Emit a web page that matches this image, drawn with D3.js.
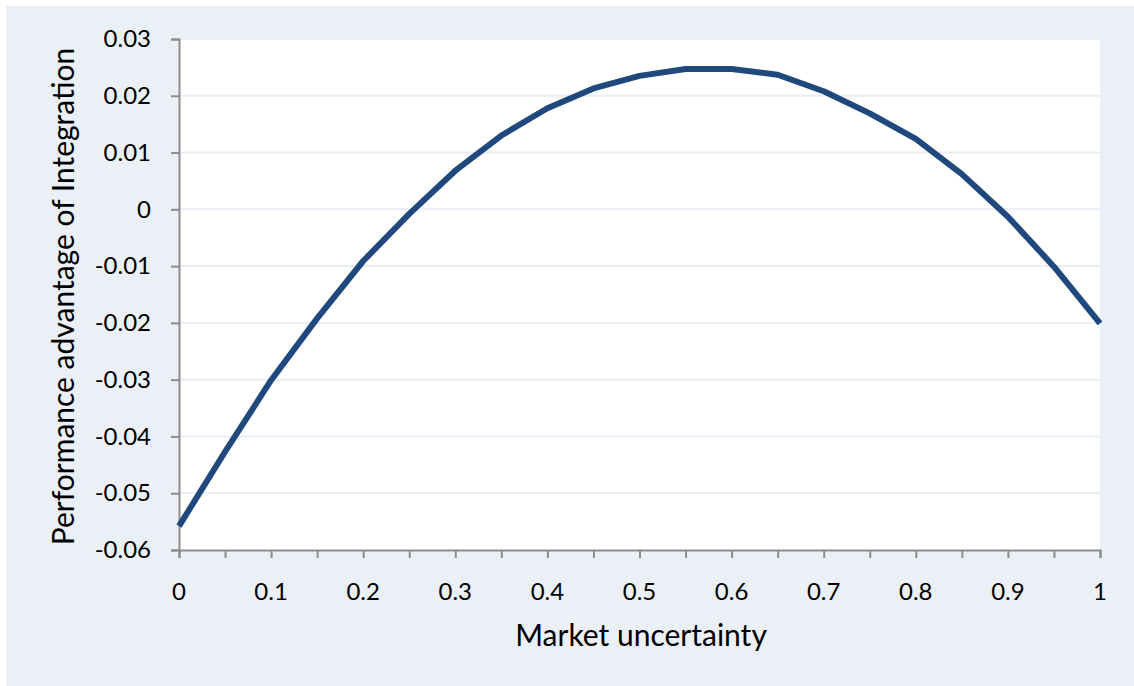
<!DOCTYPE html>
<html>
<head>
<meta charset="utf-8">
<script src="https://cdn.jsdelivr.net/npm/d3@7"></script>
<style>
  html, body { margin: 0; padding: 0; background: #ffffff; }
  svg { display: block; }
  text { font-family: Lato, "Open Sans", sans-serif; fill: #000; }
</style>
</head>
<body>
<svg id="chart" width="1134" height="686"></svg>
<script>
// Market uncertainty (x) and performance advantage of integration (y)
const uncertainty = [0, 0.05, 0.1, 0.15, 0.2, 0.25, 0.3, 0.35, 0.4, 0.45, 0.5,
                     0.55, 0.6, 0.65, 0.7, 0.75, 0.8, 0.85, 0.9, 0.95, 1];
const advantage = [-0.0558, -0.0427, -0.0301, -0.0192, -0.0091, -0.0008, 0.0068, 0.0130,
                   0.0178, 0.0213, 0.0235, 0.0247, 0.0247, 0.0237, 0.0208, 0.0169,
                   0.0124, 0.0062, -0.0013, -0.0101, -0.0201];
const yTicks = [0.03, 0.02, 0.01, 0, -0.01, -0.02, -0.03, -0.04, -0.05, -0.06];
const yTickLabels = ["0.03", "0.02", "0.01", "0", "-0.01", "-0.02", "-0.03", "-0.04", "-0.05", "-0.06"];
const xTicks = [0, 0.1, 0.2, 0.3, 0.4, 0.5, 0.6, 0.7, 0.8, 0.9, 1];
const xTickLabels = ["0", "0.1", "0.2", "0.3", "0.4", "0.5", "0.6", "0.7", "0.8", "0.9", "1"];
const xMinorTicks = uncertainty;

const svg = d3.select("#chart");
const W = 1134, H = 686;
const plot = { left: 179, right: 1100, top: 39, bottom: 550 };

// outer chart panel
svg.append("rect").attr("x", 6).attr("y", 6).attr("width", W - 6).attr("height", H - 6)
  .attr("fill", "#ebf0f7");
// plot area
svg.append("rect").attr("x", plot.left).attr("y", plot.top)
  .attr("width", plot.right - plot.left).attr("height", plot.bottom - plot.top)
  .attr("fill", "#ffffff");

const x = d3.scaleLinear().domain([0, 1]).range([plot.left, plot.right]);
const y = d3.scaleLinear().domain([-0.06, 0.03]).range([plot.bottom, plot.top]);

// horizontal gridlines
svg.append("g").selectAll("line").data(yTicks.filter(v => v !== -0.06)).join("line")
  .attr("x1", plot.left).attr("x2", plot.right)
  .attr("y1", d => y(d)).attr("y2", d => y(d))
  .attr("stroke", "#e8edf6").attr("stroke-width", 2);

// y axis
const yAxis = d3.axisLeft(y).tickValues(yTicks).tickSize(8).tickPadding(20)
  .tickFormat((d, i) => yTickLabels[i]);
const gy = svg.append("g").attr("transform", `translate(${plot.left},0)`).call(yAxis);
gy.select(".domain").attr("stroke", "#8c8c8c").attr("stroke-width", 2);
gy.selectAll(".tick line").attr("stroke", "#8c8c8c").attr("stroke-width", 2);
gy.selectAll(".tick text").style("font-size", "24px").style("font-family", "Lato, sans-serif").attr("fill", "#000");

// x axis: minor ticks every 0.05, labels every 0.1
const xAxis = d3.axisBottom(x).tickValues(xMinorTicks).tickSize(8).tickFormat("");
const gx = svg.append("g").attr("transform", `translate(0,${plot.bottom})`).call(xAxis);
gx.select(".domain").attr("stroke", "#8c8c8c").attr("stroke-width", 2);
gx.selectAll(".tick line").attr("stroke", "#8c8c8c").attr("stroke-width", 2);

svg.append("g").selectAll("text").data(xTicks).join("text")
  .attr("x", d => x(d)).attr("y", 600)
  .attr("text-anchor", "middle").style("font-size", "24px")
  .text((d, i) => xTickLabels[i]);

// data line
const line = d3.line().x((d, i) => x(uncertainty[i])).y(d => y(d));
svg.append("path").datum(advantage)
  .attr("d", line).attr("fill", "none")
  .attr("stroke", "#1f497d").attr("stroke-width", 6)
  .attr("stroke-linejoin", "round");

// axis titles
svg.append("text").attr("x", 641).attr("y", 646).attr("text-anchor", "middle")
  .style("font-size", "30px").text("Market uncertainty");
svg.append("text").attr("transform", `translate(74,${(plot.top + plot.bottom) / 2 + 2}) rotate(-90)`)
  .attr("text-anchor", "middle").style("font-size", "30px")
  .text("Performance advantage of Integration");
</script>
</body>
</html>
